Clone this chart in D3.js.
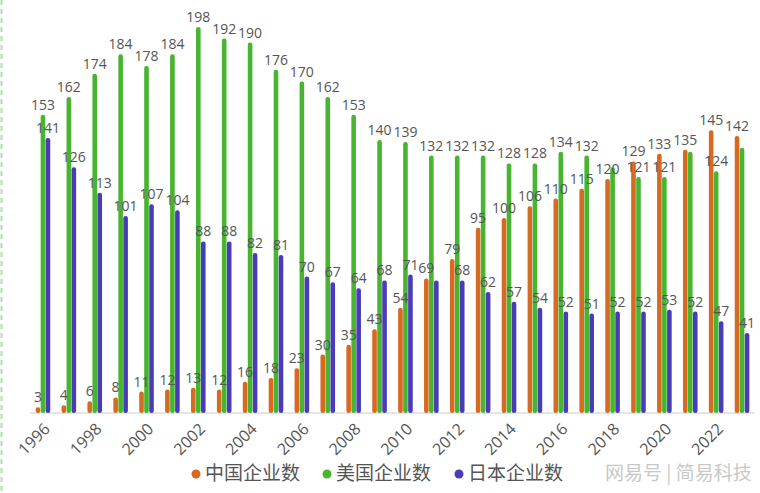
<!DOCTYPE html>
<html>
<head>
<meta charset="utf-8">
<script src="https://cdn.jsdelivr.net/npm/d3@7"></script>
<style>
  body { margin: 0; background: #fff; }
  svg { display: block; font-family: "Noto Sans CJK SC", "Noto Sans", sans-serif; }
</style>
</head>
<body>
<div id="chart"></div>
<script>
var years = [1996,1997,1998,1999,2000,2001,2002,2003,2004,2005,2006,2007,2008,2009,
             2010,2011,2012,2013,2014,2015,2016,2017,2018,2019,2020,2021,2022,2023];
var chinaCount = [3,4,6,8,11,12,13,12,16,18,23,30,35,43,54,69,79,95,100,106,110,115,120,129,133,135,145,142];
var usCount    = [153,162,174,184,178,184,198,192,190,176,170,162,153,140,139,132,132,132,128,128,134,132,126,121,121,134,124,136];
var japanCount = [141,126,113,101,107,104,88,88,82,81,70,67,64,68,71,68,68,62,57,54,52,51,52,52,53,52,47,41];
var seriesNames = ['中国企业数', '美国企业数', '日本企业数'];
var tickYears = [1996,1998,2000,2002,2004,2006,2008,2010,2012,2014,2016,2018,2020,2022];
// labels the original hides because they collide
var hiddenLabels = ['美国企业数-2018', '美国企业数-2021', '美国企业数-2023', '日本企业数-2011'];
var watermark = '网易号 | 简易科技';

var colors = {'中国企业数': '#d66a20', '美国企业数': '#47b530', '日本企业数': '#4a3cb8'};
var W = 760, H = 493;
var padding = {l: 30, r: 5, t: 23, b: 80};

var series = [
  {name: seriesNames[0], values: chinaCount},
  {name: seriesNames[1], values: usCount},
  {name: seriesNames[2], values: japanCount}
];

var svg = d3.select('#chart').append('svg')
    .attr('width', W)
    .attr('height', H);

var xScale = d3.scaleBand()
    .domain(years)
    .range([padding.l, W - padding.r]);
var inner = d3.scaleBand()
    .domain(seriesNames)
    .range([-7.5, 7.5]);
var yScale = d3.scaleLinear()
    .domain([0, 200])
    .range([H - padding.b, padding.t]);

// dashed border on the far left
svg.append('line')
    .attr('x1', 1.5).attr('x2', 1.5)
    .attr('y1', 0).attr('y2', H)
    .attr('stroke', '#a8e6a0')
    .attr('stroke-width', 2)
    .attr('stroke-dasharray', '5,4');

svg.append('line')
    .attr('x1', padding.l).attr('x2', W - padding.r)
    .attr('y1', yScale(0)).attr('y2', yScale(0))
    .attr('stroke', '#dddddd')
    .attr('stroke-width', 1.5);

var bw = 4.6;
var groups = svg.append('g').attr('class', 'bars')
  .selectAll('g')
  .data(series).enter()
  .append('g')
    .attr('fill', d => colors[d.name]);

groups.selectAll('rect')
  .data(d => d.values.map((v, i) => ({name: d.name, year: years[i], value: v})))
  .enter().append('rect')
    .attr('x', d => xScale(d.year) + xScale.bandwidth() / 2 + inner(d.name) + inner.bandwidth() / 2 - bw / 2)
    .attr('y', d => yScale(d.value))
    .attr('width', bw)
    .attr('height', d => yScale(0) - yScale(d.value))
    .attr('rx', 2.2);

var labelData = [];
series.forEach(function(s) {
  s.values.forEach(function(v, i) {
    if (hiddenLabels.indexOf(s.name + '-' + years[i]) < 0)
      labelData.push({name: s.name, year: years[i], value: v});
  });
});

svg.append('g').attr('class', 'labels')
  .selectAll('text')
  .data(labelData).enter()
  .append('text')
    .attr('x', d => xScale(d.year) + xScale.bandwidth() / 2 + inner(d.name) + inner.bandwidth() / 2)
    .attr('y', d => yScale(d.value) - 5)
    .attr('text-anchor', 'middle')
    .attr('fill', '#555')
    .style('font-size', '14px')
    .style('font-family', '"Open Sans", "Noto Sans", sans-serif')
    .text(d => d.value);

var xAxis = d3.axisBottom(xScale)
    .tickValues(tickYears)
    .tickSize(0)
    .tickPadding(0);

svg.append('g')
    .attr('class', 'axis x')
    .attr('transform', 'translate(0,' + yScale(0) + ')')
    .call(xAxis)
    .call(g => g.select('.domain').remove())
    .call(g => g.selectAll('text')
        .attr('fill', '#555')
        .attr('y', 0)
        .attr('dy', null)
        .style('font-size', '16px')
        .style('font-family', '"Open Sans", "Noto Sans", sans-serif')
        .attr('text-anchor', 'end')
        .attr('transform', 'translate(8,17) rotate(-45)'));

// legend
var legend = svg.append('g').attr('class', 'legend')
    .attr('transform', 'translate(0,' + (H - 13) + ')');
var legendX = [196, 327, 459];
seriesNames.forEach(function(n, i) {
  var item = legend.append('g').attr('transform', 'translate(' + legendX[i] + ',0)');
  item.append('circle').attr('cx', 0).attr('cy', -6).attr('r', 4.5).attr('fill', colors[n]);
  item.append('text')
      .attr('x', 9).attr('y', 0)
      .attr('fill', '#555')
      .style('font-size', '19px')
      .text(n);
});

svg.append('text')
    .attr('x', 605).attr('y', H - 13)
    .attr('fill', '#c8c8c8')
    .style('font-size', '19px')
    .text(watermark);
</script>
</body>
</html>
